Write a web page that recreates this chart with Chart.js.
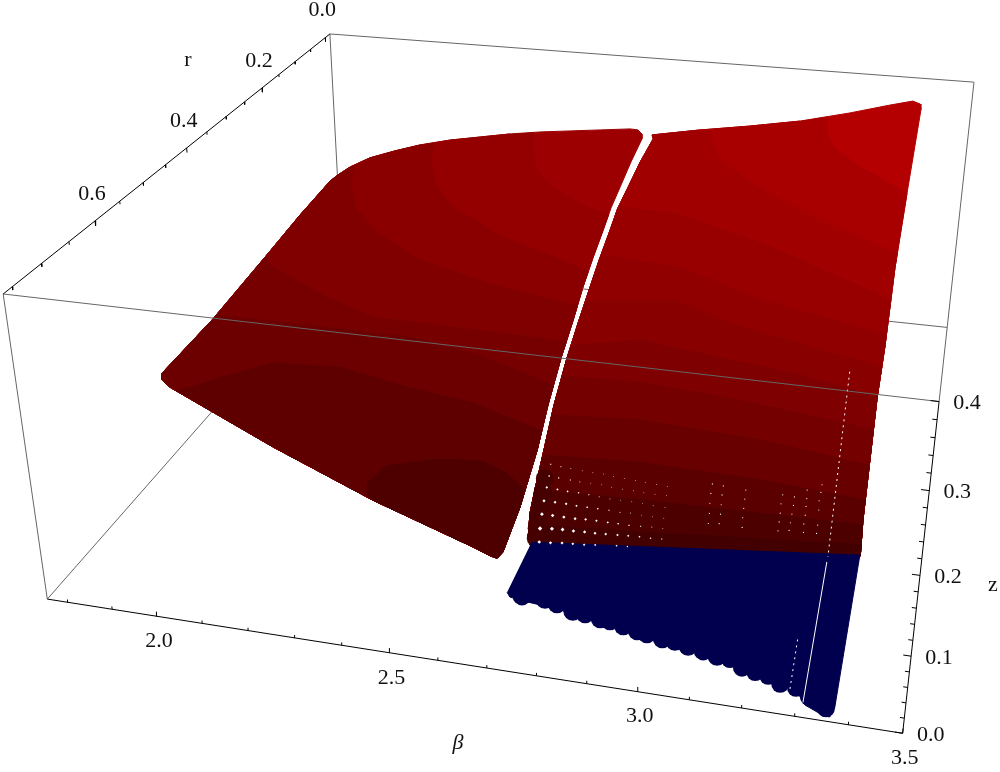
<!DOCTYPE html>
<html>
<head>
<meta charset="UTF-8">
<title>Surface over beta, r, z</title>
<script src="https://cdn.jsdelivr.net/npm/chart.js"></script>
<style>
    body { margin: 0; background: #fff; }
    canvas { display: block; }
</style>
</head>
<body>
<canvas id="surfaceChart" width="1000" height="772"></canvas>
<script>
// axis ticks
const betaMajor = [2.0, 2.5, 3.0, 3.5];
const betaMinor = [1.8, 1.9, 2.1, 2.2, 2.3, 2.4, 2.6, 2.7, 2.8, 2.9, 3.1, 3.2, 3.3, 3.4];
const rMajor = [0, 0.2, 0.4, 0.6];
const rMinor = [0.05, 0.1, 0.15, 0.25, 0.3, 0.35, 0.45, 0.5, 0.55, 0.65, 0.7, 0.75];
const zMajor = [0, 0.1, 0.2, 0.3, 0.4];
const zMinor = [0.02, 0.04, 0.06, 0.08, 0.12, 0.14, 0.16, 0.18, 0.22, 0.24, 0.26, 0.28, 0.32, 0.34, 0.36, 0.38];

// box limits
const bMin = 1.753, bMax = 3.5, rLo = -0.016, rMax = 0.765, zTop = 0.4;

// camera of the 3D view (beta, r, z) -> page
const camera = [0.28572568, -0.36980036, -0.073006454, -0.18685589,
                0.021023350, 0.18902070, -0.54130137, 0.21260037,
                -0.040228365, -0.35518945, -0.13472972];

// outline of the left sheet and the right sheet, [beta, r, z]
const leftEdge = [[1.946,.663,.25],[1.991,.593,.28],[2.022,.493,.31],[2.057,.435,.34],[2.082,.377,.36],[2.086,.359,.36],[2.096,.334,.36],[2.137,.323,.37],
[2.179,.297,.37],[2.240,.293,.38],[2.299,.271,.38],[2.363,.254,.38],[2.427,.237,.38],[2.494,.223,.38],[2.563,.212,.38],[2.632,.201,.38],
[2.701,.190,.38],[2.721,.191,.38],[2.736,.203,.38],[2.743,.218,.38],[2.740,.268,.37],[2.731,.302,.35],[2.729,.341,.34],[2.731,.381,.33],
[2.726,.416,.31],[2.731,.468,.30],[2.732,.510,.28],[2.733,.559,.26],[2.733,.608,.23],[2.742,.662,.21],[2.742,.721,.18],[2.730,.757,.15],
[2.725,.767,.15],[2.710,.765,.15],[2.678,.767,.16],[2.460,.741,.18],[2.232,.714,.21],[1.972,.673,.24],[1.957,.674,.25]];
const rightEdge = [[2.761,.203,.38],[2.867,.175,.38],[2.987,.171,.39],[3.100,.142,.39],[3.212,.102,.39],[3.305,.088,.40],[3.358,.068,.40],[3.377,.076,.40],
[3.380,.073,.39],[3.378,.247,.35],[3.376,.366,.31],[3.378,.464,.26],[3.378,.535,.24],[3.383,.657,.17],[3.387,.689,.15],[3.151,.711,.15],
[2.780,.752,.16],[2.770,.741,.16],[2.759,.716,.17],[2.761,.703,.19],[2.755,.661,.21],[2.745,.607,.23],[2.745,.558,.26],[2.744,.508,.28],
[2.746,.467,.30],[2.741,.415,.31],[2.746,.379,.33],[2.744,.339,.34],[2.749,.300,.35],[2.761,.266,.37],[2.769,.215,.38]];

// colour contours on each sheet
const leftContours = [
[[2.479,.228,.38],[2.497,.259,.37],[2.528,.295,.36],[2.580,.319,.35],[2.675,.345,.34],[2.736,.360,.34]],
[[2.266,.284,.38],[2.281,.313,.37],[2.313,.343,.35],[2.378,.378,.34],[2.513,.405,.32],[2.639,.423,.31],[2.737,.449,.31]],
[[2.098,.328,.36],[2.119,.364,.35],[2.165,.404,.34],[2.246,.443,.33],[2.359,.462,.31],[2.525,.482,.30],[2.740,.496,.29]],
[[2.022,.493,.31],[2.059,.513,.31],[2.200,.534,.29],[2.317,.550,.28],[2.489,.552,.28],[2.738,.541,.27]],
[[1.991,.582,.28],[2.195,.581,.28],[2.405,.567,.27],[2.567,.572,.26],[2.728,.584,.24]],
[[1.990,.677,.24],[2.028,.662,.24],[2.074,.656,.25],[2.164,.633,.26],[2.291,.612,.25],[2.442,.620,.24],[2.583,.621,.23],[2.735,.641,.22]],
[[2.445,.737,.18],[2.438,.727,.19],[2.463,.708,.20],[2.499,.699,.20],[2.545,.688,.20],[2.591,.683,.20],[2.642,.680,.20],[2.692,.682,.19],[2.741,.705,.19]]];
const rightContours = [
[[3.160,.122,.39],[3.172,.157,.38],[3.189,.172,.37],[3.261,.204,.36],[3.376,.247,.35]],
[[2.890,.169,.38],[2.913,.218,.38],[2.950,.248,.37],[3.066,.281,.35],[3.228,.317,.33],[3.376,.349,.32]],
[[2.748,.336,.34],[2.889,.342,.34],[3.093,.361,.32],[3.225,.390,.31],[3.379,.409,.29]],
[[2.740,.407,.31],[2.922,.419,.31],[3.105,.439,.29],[3.379,.454,.27]],
[[2.736,.481,.29],[2.925,.460,.29],[3.079,.486,.28],[3.374,.490,.25]],
[[2.741,.547,.27],[2.881,.520,.27],[3.052,.523,.26],[3.218,.524,.25],[3.378,.535,.24]],
[[2.741,.578,.25],[2.900,.559,.24],[3.111,.571,.24],[3.379,.568,.22]],
[[2.751,.625,.23],[2.920,.601,.22],[3.163,.597,.21],[3.380,.604,.20]],
[[2.751,.657,.20],[2.942,.648,.20],[3.178,.639,.19],[3.383,.637,.18]],
[[2.761,.703,.19],[2.960,.684,.18],[3.385,.665,.17]],
[[2.768,.734,.17],[2.973,.710,.16],[3.386,.684,.16]]];
const leftColors = ['#9C0000','#940000','#8A0000','#800000','#760000','#6C0000','#5E0000','#4E0000'];
const rightColors = ['#B40000','#A80000','#A00000','#980000','#900000','#880000','#7E0000','#740000','#680000','#5A0000','#4C0000','#420000'];

// blue part and the single points along its rim
const blueEdge = [[2.781,.748,.16],[3.386,.688,.15],[3.378,.815,.07],[3.371,.818,.06],[3.361,.818,.06],[3.326,.818,.07],[3.307,.811,.08],[3.157,.794,.09],
[2.935,.789,.11],[2.789,.799,.13],[2.768,.797,.13],[2.759,.791,.13]];
const blueRim = [[2.789,.793,.13],[2.807,.788,.13],[2.833,.793,.13],[2.852,.786,.12],[2.886,.793,.12],[2.910,.794,.12],[2.935,.787,.11],[2.954,.788,.11],
[2.981,.792,.11],[3.009,.796,.11],[3.028,.798,.11],[3.054,.791,.10],[3.078,.792,.10],[3.104,.796,.10],[3.133,.799,.10],[3.157,.793,.09],
[3.181,.794,.09],[3.206,.803,.09],[3.231,.806,.09],[3.253,.798,.08],[3.277,.806,.08],[3.306,.808,.08],[3.330,.807,.07],[3.351,.811,.07],[3.363,.818,.07]];
const redRim = [[2.769,.682,.19],[2.770,.691,.18],[2.779,.713,.18],[2.777,.720,.17],[2.778,.726,.16],[2.785,.741,.16]];

// gaps left between the points, [beta, r] at z = holeZ
const holeZ = 0.18;
const holeRows = [
[[2.808,.769],[2.829,.768],[2.850,.766],[2.870,.765],[2.891,.764],[2.911,.762],[2.950,.759],[2.970,.758]],
[[2.798,.749],[2.820,.747],[2.840,.746],[2.861,.746],[2.882,.745],[2.902,.745],[2.922,.744],[2.944,.743],[2.964,.742],[2.985,.741],[3.006,.741],[3.027,.740]],
[[2.789,.727],[2.810,.727],[2.832,.727],[2.854,.727],[2.874,.726],[2.895,.726],[2.917,.726],[2.937,.726],[2.958,.726],[2.980,.725],[3.001,.724],[3.022,.724]],
[[2.781,.706],[2.803,.706],[2.825,.706],[2.846,.707],[2.867,.707],[2.888,.707],[2.910,.707],[2.932,.708],[2.952,.707],[2.974,.708],[2.995,.708],[3.017,.708]],
[[2.774,.684],[2.796,.685],[2.817,.686],[2.839,.686],[2.860,.687],[2.881,.688],[2.903,.689],[2.924,.689],[2.946,.689],[2.968,.690],[2.989,.691],[3.012,.691]],
[[2.768,.665],[2.788,.666],[2.812,.667],[2.832,.668],[2.854,.668],[2.876,.668],[2.897,.670],[2.919,.671],[2.941,.671],[2.962,.672],[2.984,.672],[3.007,.672]],
[[2.760,.645],[2.782,.647],[2.803,.648],[2.827,.649],[2.849,.650],[2.871,.650],[2.892,.652],[2.914,.653],[2.937,.654],[2.957,.655],[2.980,.656],[3.002,.657]]];
const holeSizes = [1.8, 2.2, 1.9, 1.6, 1.3, 1.0, 0.8];
const holesRight = [[3.086,.643],[3.089,.659],[3.093,.675],[3.098,.691],[3.102,.707],[3.108,.644],[3.111,.659],[3.115,.675],[3.119,.690],[3.122,.705],[3.153,.646],
[3.156,.661],[3.159,.676],[3.162,.691],[3.166,.706],[3.225,.646],[3.226,.661],[3.229,.676],[3.231,.690],[3.233,.704],[3.248,.647],[3.250,.661],
[3.251,.675],[3.252,.689],[3.253,.701],[3.269,.633],[3.272,.647],[3.274,.660],[3.276,.674],[3.277,.688],[3.280,.701],[3.295,.621],[3.296,.634],
[3.296,.648],[3.299,.663],[3.303,.687],[3.304,.700]];
const splitDashed = [[3.325,.582,.30],[3.333,.733,.18]];
const splitSolid = [[3.328,.705,.15],[3.323,.825,.08]];
const splitShort = [[3.295,.765,.10],[3.296,.812,.08]];

function proj(b, r, z) {
    const c = camera, w = c[8] * b + c[9] * r + c[10] * z + 1;
    return { x: 1000 * (c[0] * b + c[1] * r + c[2] * z + c[3]) / w,
             y: 1000 * (c[4] * b + c[5] * r + c[6] * z + c[7]) / w };
}
const flat = pts => pts.map(p => proj(p[0], p[1], p[2]));

// closest side of a closed outline, and the foot of the point on it
function nearestSide(ring, p) {
    let best = 0, bestD = Infinity, foot = p;
    ring.forEach((a, i) => {
        const c = ring[(i + 1) % ring.length];
        const dx = c.x - a.x, dy = c.y - a.y;
        const t = Math.max(0, Math.min(1, ((p.x - a.x) * dx + (p.y - a.y) * dy) / (dx * dx + dy * dy)));
        const q = { x: a.x + t * dx, y: a.y + t * dy };
        const d = Math.hypot(q.x - p.x, q.y - p.y);
        if (d < bestD) { bestD = d; best = i; foot = q; }
    });
    return [best, foot];
}

// contour plus the outline running round from its end back to its start
function bandShape(ring, contour) {
    const [s, from] = nearestSide(ring, contour[0]);
    const [e, to] = nearestSide(ring, contour[contour.length - 1]);
    const out = [from, ...contour.slice(1, -1), to];
    let i = (e + 1) % ring.length;
    while (true) {
        out.push(ring[i]);
        if (i === s) break;
        i = (i + 1) % ring.length;
    }
    return out;
}

const layers = [];
const addLine = (data, color, width, dash) => layers.push({ data, showLine: true, borderColor: color, borderWidth: width, borderDash: dash || [], pointRadius: 0, fill: false, spanGaps: false });
const addShape = (data, color) => layers.push({ data, showLine: true, fill: 'shape', backgroundColor: color, borderColor: color, borderWidth: 1, pointRadius: 0 });
const addPoints = (data, color, radius, style) => layers.push({ data, backgroundColor: color, pointRadius: radius, pointStyle: style || 'circle', borderWidth: 0 });
const tickMarks = (list, f) => list.flatMap(t => [...f(t), { x: NaN, y: NaN }]);

const grey = '#666';
const edge = (a, b) => addLine([proj(...a), proj(...b)], grey, 1);

// back of the box, hidden by the surface
edge([bMin, rLo, zTop], [bMin, rLo, 0]);
edge([bMin, rLo, 0], [bMin, rMax, 0]);
edge([bMin, rLo, 0], [bMax, rLo, 0]);

// surface
const leftRing = flat(leftEdge), rightRing = flat(rightEdge);
addShape(leftRing, leftColors[0]);
leftContours.forEach((c, i) => addShape(bandShape(leftRing, flat(c)), leftColors[i + 1]));
addShape(rightRing, rightColors[0]);
rightContours.forEach((c, i) => addShape(bandShape(rightRing, flat(c)), rightColors[i + 1]));
addPoints(flat(redRim), '#460000', 9);
addShape(flat(blueEdge), '#00004E');
addPoints(flat(blueRim), '#00004E', c => c.dataIndex < 16 ? 9.5 : 9);
holeRows.forEach((row, j) => addPoints(row.map(h => proj(h[0], h[1], holeZ)), '#fff',
    c => Math.max(0.5, holeSizes[j] - c.dataIndex * 0.13), 'rectRot'));
addPoints(holesRight.map(h => proj(h[0], h[1], holeZ)), '#fff', 0.6);
addLine(flat(splitDashed), '#fff', 1, [2, 4]);
addLine(flat(splitSolid), '#fff', 1);
addLine(flat(splitShort), '#fff', 1, [2, 4]);

// front of the box
edge([bMin, rLo, zTop], [bMax, rLo, zTop]);
edge([bMin, rMax, zTop], [bMin, rMax, 0]);
edge([bMin, rMax, zTop], [bMax, rMax, zTop]);
edge([bMax, rLo, zTop], [bMax, rMax, zTop]);

// axes and ticks
addLine([proj(bMin, rMax, 0), proj(bMax, rMax, 0)], '#000', 1);
addLine([proj(bMin, rLo, zTop), proj(bMin, rMax, zTop)], '#000', 1);
addLine([proj(bMax, rMax, 0), proj(bMax, rMax, zTop)], '#000', 1);
addLine(tickMarks(betaMajor, b => [proj(b, rMax, 0), proj(b, rMax, 0.0065)]), '#000', 1);
addLine(tickMarks(betaMinor, b => [proj(b, rMax, 0), proj(b, rMax, 0.004)]), '#000', 1);
addLine(tickMarks(rMajor, r => [proj(bMin, r, zTop), proj(bMin, r, zTop - 0.0065)]), '#000', 1);
addLine(tickMarks(rMinor, r => [proj(bMin, r, zTop), proj(bMin, r, zTop - 0.004)]), '#000', 1);
addLine(tickMarks(zMajor, z => [proj(bMax, rMax, z), proj(bMax - 0.014, rMax, z)]), '#000', 1);
addLine(tickMarks(zMinor, z => [proj(bMax, rMax, z), proj(bMax - 0.008, rMax, z)]), '#000', 1);

// tick labels and axis names
const axisText = {
    id: 'axisText',
    afterDraw(chart) {
        const g = chart.ctx;
        g.save();
        g.fillStyle = '#111';
        g.textAlign = 'center';
        g.textBaseline = 'middle';
        g.font = "22px 'Liberation Serif'";
        betaMajor.forEach(b => { const p = proj(b, rMax, 0); g.fillText(b.toFixed(1), p.x + 2, p.y + 25); });
        rMajor.forEach(r => { const p = proj(bMin, r, zTop); g.fillText(r.toFixed(1), p.x - 3, p.y - 27); });
        zMajor.forEach(z => { const p = proj(bMax, rMax, z); g.fillText(z.toFixed(1), p.x + 28, p.y + 2); });
        g.fillText('r', 188, 60);
        g.fillText('z', 993, 585);
        g.font = "italic 22px 'Liberation Serif'";
        g.fillText('β', 458, 743);
        g.restore();
    }
};

// chart.js paints the first dataset last
new Chart(document.getElementById('surfaceChart'), {
    type: 'scatter',
    data: { datasets: layers.reverse() },
    plugins: [axisText],
    options: {
        responsive: false,
        animation: false,
        events: [],
        layout: { padding: 0, autoPadding: false },
        plugins: { legend: { display: false }, tooltip: { enabled: false } },
        scales: {
            x: { type: 'linear', display: false, min: 0, max: 1000 },
            y: { type: 'linear', display: false, min: 0, max: 772, reverse: true }
        }
    }
});
</script>
</body>
</html>
